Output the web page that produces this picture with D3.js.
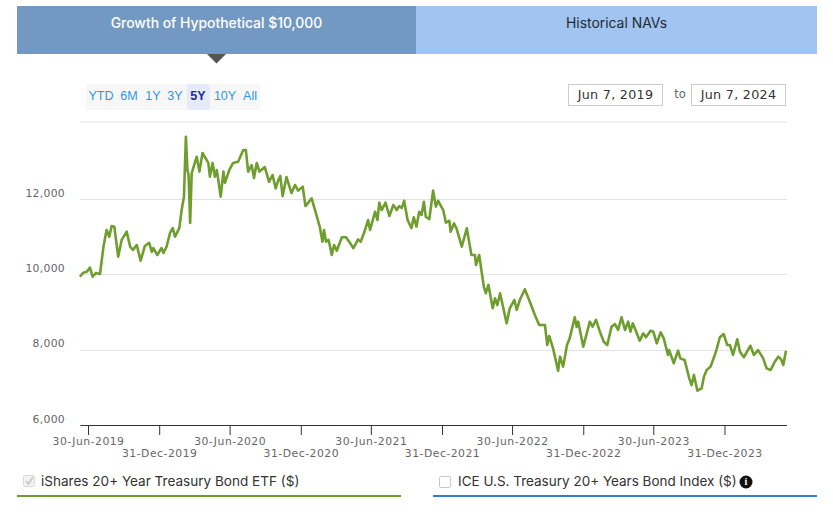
<!DOCTYPE html>
<html><head><meta charset="utf-8">
<script src="https://cdn.jsdelivr.net/npm/d3@7/dist/d3.min.js"></script>
<style>html,body{margin:0;padding:0;background:#fff}svg{display:block}</style>
</head><body><svg id="c" width="833" height="520"></svg>
<script>
const startDate = "2019-06-07";
const endDate = "2024-06-07";
const tickDates = ["2019-06-30","2019-12-31","2020-06-30","2020-12-31","2021-06-30","2021-12-31","2022-06-30","2022-12-31","2023-06-30","2023-12-31"];
const tickLabels = ["30-Jun-2019","31-Dec-2019","30-Jun-2020","31-Dec-2020","30-Jun-2021","31-Dec-2021","30-Jun-2022","31-Dec-2022","30-Jun-2023","31-Dec-2023"];
const yTicks = [6000,8000,10000,12000];
const rangeButtons = ["YTD","6M","1Y","3Y","5Y","10Y","All"];
const tabs = ["Growth of Hypothetical $10,000","Historical NAVs"];
const legendNames = ["iShares 20+ Year Treasury Bond ETF ($)","ICE U.S. Treasury 20+ Years Bond Index ($)"];
const dayOffsets = [2,11,20,28,35,44,54,63,71,78,84,91,101,110,123,132,139,149,159,170,181,188,192,202,213,218,226,235,242,248,259,265,271,276,280,283,287,291,304,311,319,334,338,345,351,356,366,373,377,388,398,411,424,431,437,446,452,459,466,480,491,500,508,515,520,526,536,549,558,566,578,585,601,612,622,629,633,638,645,653,659,666,679,690,698,709,721,728,739,747,752,765,771,776,782,792,802,812,821,827,834,840,849,859,865,872,879,885,891,896,905,915,922,928,941,948,957,960,969,976,989,1002,1008,1014,1023,1026,1034,1046,1051,1058,1069,1075,1081,1088,1105,1113,1125,1131,1139,1152,1165,1178,1189,1204,1210,1215,1225,1238,1243,1251,1261,1268,1281,1286,1290,1303,1320,1327,1336,1346,1356,1365,1376,1385,1393,1402,1411,1419,1425,1431,1436,1449,1458,1465,1477,1484,1493,1503,1511,1522,1525,1537,1548,1554,1565,1577,1583,1589,1598,1609,1615,1622,1632,1643,1647,1656,1666,1675,1682,1690,1701,1708,1718,1735,1744,1755,1768,1777,1787,1798,1807,1814,1820,1827];
const growthValues = [9940,10045,10070,10180,9940,10040,10010,10735,11180,11000,11285,11265,10470,10915,11135,10735,10650,10780,10365,10755,10840,10600,10700,10515,10700,10570,10735,11100,11230,11000,11230,11710,12065,13655,12770,12640,11365,12690,13125,12730,13225,12960,12595,12960,12595,12770,12065,12730,12430,12770,12960,12990,13300,13300,12730,12905,12560,12960,12730,12850,12460,12640,12285,12505,12615,12080,12585,12160,12375,12225,12330,11815,12020,11630,11265,10870,11180,10870,10915,10515,10780,10630,10985,10985,10870,10695,10930,10870,11180,11445,11180,11665,11445,11905,11710,11905,11550,11845,11710,11815,11765,11955,11445,11230,11515,11270,11665,11580,11930,11530,11465,12225,11800,11955,11710,11375,11425,11135,11355,11205,10735,11225,10870,10515,10515,10250,10515,9675,9500,9720,9100,9365,9185,9500,8700,9100,9320,9055,9320,9605,9275,8920,8655,8655,8125,8365,8035,7440,7815,7550,8125,8305,8860,8605,8745,8080,8745,8610,8790,8480,8210,8125,8610,8680,8525,8860,8525,8745,8480,8700,8575,8240,8435,8330,8505,8480,8170,8460,8300,7860,7990,7640,7975,7770,7725,7240,7060,7330,6910,6975,7285,7460,7550,7860,7990,8330,8415,8125,8125,7860,8275,7945,7800,8105,7860,7990,7770,7505,7460,7680,7815,7750,7595,7975];

const svg = d3.select("#c");
const parse = d3.utcParse("%Y-%m-%d");
const t0 = parse(startDate);
const x = d3.scaleUtc().domain([t0, parse(endDate)]).range([79.1,786]);
const y = d3.scaleLinear().domain([6000,14000]).range([425,123.8]);
const dataFont = "'DejaVu Sans'";
const uiFont = "Inter";

// tabs
const tabEdges = [17,416,817];
const tabFill = ["#7399c2","#a2c4f0"], tabText = ["#ffffff","#222b33"];
tabs.forEach((t,i)=>{
  svg.append("rect").attr("x",tabEdges[i]).attr("y",6).attr("width",tabEdges[i+1]-tabEdges[i]).attr("height",48).attr("fill",tabFill[i]);
  svg.append("text").attr("x",(tabEdges[i]+tabEdges[i+1])/2).attr("y",24.5).attr("text-anchor","middle").attr("dominant-baseline","middle")
    .attr("font-family",uiFont).attr("font-size",13.9).attr("font-weight",i?400:500).attr("fill",tabText[i]).text(t);
});
svg.append("path").attr("d","M207,54L226,54L216.5,63.5Z").attr("fill","#555555");

// range selector
svg.append("rect").attr("x",86).attr("y",84).attr("width",174).attr("height",26).attr("rx",2).attr("fill","#f7f7f7");
const btnCenters = [101,129,153,175,198,225,250];
svg.append("rect").attr("x",187).attr("y",84).attr("width",23).attr("height",26).attr("rx",2).attr("fill","#e6ebf9");
rangeButtons.forEach((b,i)=>{
  svg.append("text").attr("x",btnCenters[i]).attr("y",97).attr("text-anchor","middle").attr("dominant-baseline","middle")
   .attr("font-family","'Liberation Sans'").attr("font-size",12.5).attr("font-weight",b==="5Y"?700:400)
   .attr("fill",b==="5Y"?"#1a2a9c":"#2f95ee").text(b);
});

// date inputs
[[568.5,"Jun 7, 2019"],[691.5,"Jun 7, 2024"]].forEach(([bx,t])=>{
  svg.append("rect").attr("x",bx).attr("y",84.5).attr("width",94).attr("height",21).attr("fill","#fff").attr("stroke","#cccccc");
  svg.append("text").attr("x",bx+47).attr("y",95).attr("text-anchor","middle").attr("dominant-baseline","middle")
   .attr("font-family",dataFont).attr("font-size",12.7).attr("letter-spacing",0.3).attr("fill","#333").text(t);
});
svg.append("text").attr("x",680).attr("y",94).attr("text-anchor","middle").attr("dominant-baseline","middle")
 .attr("font-family",dataFont).attr("font-size",11.5).attr("fill","#666").text("to");

// grid
const gridVals = [8000,10000,12000,14000];
svg.append("g").selectAll("line").data(gridVals).join("line")
  .attr("x1",80).attr("x2",787).attr("y1",d=>d===14000?122:Math.round(y(d))+.5).attr("y2",d=>d===14000?122:Math.round(y(d))+.5)
  .attr("stroke","#e4e4e4");

// y labels
svg.append("g").selectAll("text").data(yTicks).join("text")
  .attr("x",65).attr("y",d=>y(d)-5.5).attr("text-anchor","end").attr("dominant-baseline","middle")
  .attr("font-family",dataFont).attr("font-size",10.8).attr("letter-spacing",0.3).attr("fill","#666")
  .text(d=>d3.format(",")(d));

// x axis
const ax = d3.axisBottom(x).tickValues(tickDates.map(parse)).tickSize(10).tickFormat((d,i)=>tickLabels[i]);
const axg = svg.append("g").attr("transform","translate(0,425)").call(ax);
axg.select(".domain").attr("d","M80.5,0.5H787").attr("stroke","#333");
axg.selectAll(".tick line").attr("stroke","#333");
axg.selectAll(".tick text").attr("font-family",dataFont).attr("font-size",10.8).attr("fill","#666")
  .attr("letter-spacing",0.5).attr("dy",null).attr("y",(d,i)=>i%2?32:19.5);

// line
const pts = dayOffsets.map((d,i)=>({date:d3.utcDay.offset(t0,d),v:growthValues[i]}));
svg.append("path").datum(pts).attr("fill","none").attr("stroke","#6f9e2e").attr("stroke-width",2.6).attr("stroke-linejoin","round")
  .attr("d",d3.line().x(d=>x(d.date)).y(d=>y(d.v)));

// legend
svg.append("rect").attr("x",23.5).attr("y",475.5).attr("width",11).attr("height",11).attr("rx",1.5).attr("fill","#f2f2f2").attr("stroke","#dcdcdc");
svg.append("path").attr("d","M26,481L28.5,484L33,477").attr("fill","none").attr("stroke","#c4c4c4").attr("stroke-width",1.5);
svg.append("text").attr("x",41).attr("y",482.5).attr("dominant-baseline","middle").attr("font-family",uiFont).attr("font-size",13.55).attr("fill","#333").text(legendNames[0]);
svg.append("rect").attr("x",17).attr("y",495).attr("width",384).attr("height",2).attr("fill","#6f9e2e");
svg.append("rect").attr("x",439.5).attr("y",476.5).attr("width",11).attr("height",11).attr("rx",1.5).attr("fill","#fff").attr("stroke","#c8c8c8");
svg.append("text").attr("x",458).attr("y",482.5).attr("dominant-baseline","middle").attr("font-family",uiFont).attr("font-size",13.5).attr("fill","#333").text(legendNames[1]);
svg.append("rect").attr("x",433).attr("y",495).attr("width",384).attr("height",2).attr("fill","#2f7fd6");
svg.append("circle").attr("cx",746).attr("cy",482).attr("r",6.5).attr("fill","#111");
svg.append("text").attr("x",746).attr("y",482.5).attr("text-anchor","middle").attr("dominant-baseline","middle").attr("font-family","'Liberation Serif'").attr("font-weight",700).attr("font-size",10).attr("fill","#fff").text("i");
</script></body></html>
